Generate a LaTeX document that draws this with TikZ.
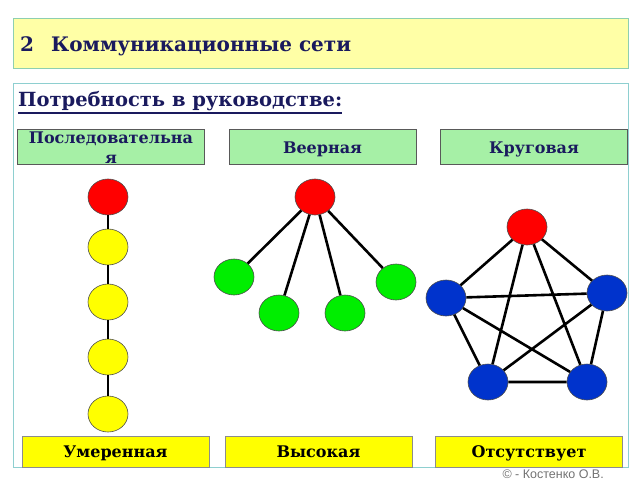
\documentclass[tikz,border=0pt]{standalone}
\usepackage{fontspec}
\usetikzlibrary{shapes.geometric}
\setmainfont{DejaVu Serif}
\newfontfamily\copyfont{Liberation Sans}
\definecolor{navy}{HTML}{1A1A5E}
\definecolor{titlefill}{HTML}{FFFFA6}
\definecolor{titleborder}{HTML}{8ECFB0}
\definecolor{frameborder}{HTML}{8ECFD0}
\definecolor{hdrfill}{HTML}{A6F0A6}
\definecolor{nred}{HTML}{FF0000}
\definecolor{nyellow}{HTML}{FFFF00}
\definecolor{ngreen}{HTML}{00EE00}
\definecolor{nblue}{HTML}{0033CC}
\begin{document}
\begin{tikzpicture}[x=1pt,y=-1pt,
  hdr/.style={draw=black!65,fill=hdrfill,minimum width=187pt,minimum height=35pt,inner sep=0pt,line width=0.8pt},
  hdrtxt/.style={font=\fontsize{16}{20}\selectfont\bfseries,text=navy,inner sep=0pt,anchor=base},
  res/.style={draw=black!45,fill=nyellow,minimum width=187pt,minimum height=31pt,inner sep=0pt,line width=0.8pt},
  restxt/.style={font=\fontsize{16}{18}\selectfont\bfseries,text=black,inner sep=0pt,anchor=base},
  nd/.style={ellipse,draw=black!70,line width=0.6pt,minimum width=40pt,minimum height=36pt,inner sep=0pt},
  ed/.style={line width=2.6pt,black}]
\useasboundingbox (0,0) rectangle (640,480);
\fill[white] (0,0) rectangle (640,480);
% title
\node[draw=titleborder,fill=titlefill,line width=1pt,minimum width=615pt,minimum height=50pt,anchor=north west,inner sep=0pt] (title) at (13,18) {};
\node[anchor=base west,inner sep=0pt,text=navy,font=\fontsize{20}{22}\selectfont\bfseries] (tt) at (20,51) {2\hspace{0.85em}Коммуникационные сети};
% frame
\node[draw=frameborder,line width=1pt,minimum width=615pt,minimum height=384pt,anchor=north west,inner sep=0pt] (frame) at (13,83) {};
\node[anchor=base west,inner sep=0pt,text=navy,font=\fontsize{19.5}{22}\selectfont\bfseries] (need) at (18,106) {Потребность в руководстве:};
\draw[navy,line width=1.2pt] ([yshift=-7pt]need.base west) -- ([yshift=-7pt]need.base east);
% headers
\node[hdr] (h1) at (111,146.5) {};
\node[hdr] (h2) at (322.5,146.5) {};
\node[hdr] (h3) at (534,146.5) {};
\node[hdrtxt] (h1a) at (111,143) {Последовательна};
\node[hdrtxt] (h1b) at (111,163) {я};
\node[hdrtxt] (h2t) at (322.5,153) {Веерная};
\node[hdrtxt] (h3t) at (534,153) {Круговая};
% chain
\node[nd,fill=nred] (c1) at (108,197) {};
\node[nd,fill=nyellow] (c2) at (108,247) {};
\node[nd,fill=nyellow] (c3) at (108,302) {};
\node[nd,fill=nyellow] (c4) at (108,357) {};
\node[nd,fill=nyellow] (c5) at (108,414) {};
\draw[ed] (c1) -- (c2) (c2) -- (c3) (c3) -- (c4) (c4) -- (c5);
% fan
\node[nd,fill=nred] (f0) at (315,197) {};
\node[nd,fill=ngreen] (f1) at (234,277) {};
\node[nd,fill=ngreen] (f2) at (279,313) {};
\node[nd,fill=ngreen] (f3) at (345,313) {};
\node[nd,fill=ngreen] (f4) at (396,282) {};
\draw[ed] (f0) -- (f1) (f0) -- (f2) (f0) -- (f3) (f0) -- (f4);
% circle (complete)
\node[nd,fill=nred] (p0) at (527,227) {};
\node[nd,fill=nblue] (p1) at (446,298) {};
\node[nd,fill=nblue] (p2) at (607,293) {};
\node[nd,fill=nblue] (p3) at (488,382) {};
\node[nd,fill=nblue] (p4) at (587,382) {};
\draw[ed] (p0) -- (p1) (p0) -- (p2) (p0) -- (p3) (p0) -- (p4)
  (p1) -- (p2) (p1) -- (p3) (p1) -- (p4) (p2) -- (p3) (p2) -- (p4) (p3) -- (p4);
% results
\node[res] (r1) at (115.5,451.5) {};
\node[res] (r2) at (318.5,451.5) {};
\node[res] (r3) at (529,451.5) {};
\node[restxt] (r1t) at (115.5,457) {Умеренная};
\node[restxt] (r2t) at (318.5,457) {Высокая};
\node[restxt] (r3t) at (529,457) {Отсутствует};
% copyright
\node[anchor=base east,inner sep=0pt,text=black!55,font=\copyfont\fontsize{12.5}{13}\selectfont] (cp) at (604,478) {© - Костенко О.В.};
\end{tikzpicture}
\end{document}
